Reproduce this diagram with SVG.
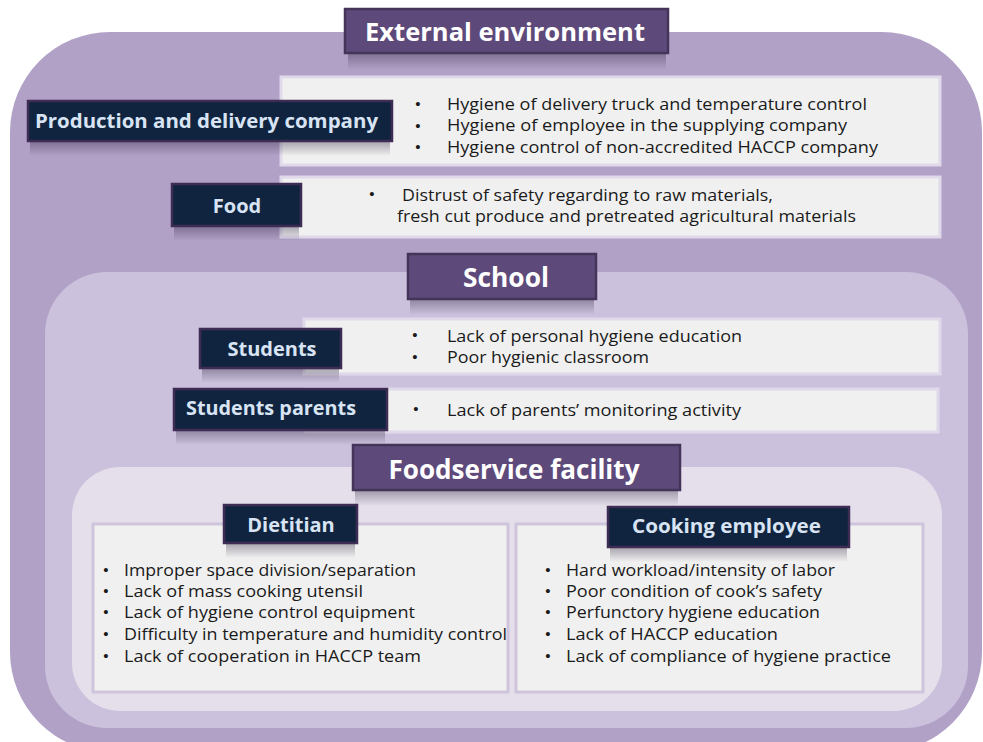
<svg xmlns="http://www.w3.org/2000/svg" width="983" height="742" viewBox="0 0 983 742">
  <defs>
    <linearGradient id="shade" x1="0" y1="0" x2="0" y2="1">
      <stop offset="0" stop-color="#2a1f3a" stop-opacity="0.35"/>
      <stop offset="1" stop-color="#2a1f3a" stop-opacity="0"/>
    </linearGradient>
    <style>
      .outer { fill: #b1a1c7; }
      .school { fill: #cbc1dc; }
      .facility { fill: #e4dfeb; }
      .head { fill: #5e4a7a; stroke: #443459; stroke-width: 2.5; }
      .label { fill: #11243f; stroke: #3e2c55; stroke-width: 2.5; }
      .shade { fill: url(#shade); }
      .card { fill: #f0f0f0; stroke: #e0d9ea; stroke-width: 3; }
      .panel { fill: #f0f0f0; stroke: #cec5dd; stroke-width: 3; }
      .htxt { font-family: "Open Sans", "Noto Sans", "Liberation Sans", sans-serif; font-weight: 700; fill: #ffffff; text-anchor: middle; }
      .ltxt { font-family: "Open Sans", "Noto Sans", "Liberation Sans", sans-serif; font-weight: 700; font-size: 20px; fill: #d8e4f4; }
      .body { font-family: "Open Sans", "Noto Sans", "Liberation Sans", sans-serif; font-size: 16.5px; fill: #1a1a1a; }
      .tight { font-size: 15.5px; }
      .dot { font-family: "Liberation Sans", sans-serif; font-size: 15px; fill: #1a1a1a; text-anchor: middle; }
    </style>
  </defs>

  <!-- nested backgrounds -->
  <rect class="outer" x="10" y="32" width="972" height="720" rx="100"/>
  <rect class="school" x="45" y="272" width="923" height="456" rx="62"/>
  <rect class="facility" x="72" y="467" width="870" height="244" rx="48"/>

  <!-- External environment -->
  <g id="external-environment">
    <rect class="shade" x="348" y="54" width="318" height="16"/>
    <rect class="head" x="345" y="9" width="323" height="44"/>
    <text class="htxt" x="505" y="41" font-size="25" textLength="280" lengthAdjust="spacingAndGlyphs">External environment</text>
  </g>

  <g id="production-delivery-details">
    <rect class="card" x="281" y="77" width="659" height="88"/>
    <text class="dot" x="418" y="109">•</text>
    <text class="dot" x="418" y="131">•</text>
    <text class="dot" x="418" y="152">•</text>
    <text class="body" x="447" y="110" textLength="420" lengthAdjust="spacingAndGlyphs">Hygiene of delivery truck and temperature control</text>
    <text class="body" x="447" y="131" textLength="400" lengthAdjust="spacingAndGlyphs">Hygiene of employee in the supplying company</text>
    <text class="body" x="447" y="153" textLength="431" lengthAdjust="spacingAndGlyphs">Hygiene control of non-accredited HACCP company</text>
  </g>
  <g id="production-delivery-company">
    <rect class="shade" x="30" y="142" width="360" height="14"/>
    <rect class="label" x="28" y="101" width="364" height="40"/>
    <text class="ltxt" x="35" y="128" textLength="343" lengthAdjust="spacingAndGlyphs">Production and delivery company</text>
  </g>

  <g id="food-details">
    <rect class="card" x="281" y="177" width="659" height="60"/>
    <text class="dot" x="372" y="199">•</text>
    <text class="body tight" x="402" y="201" textLength="371" lengthAdjust="spacingAndGlyphs">Distrust of safety regarding to raw materials,</text>
    <text class="body tight" x="397" y="222" textLength="459" lengthAdjust="spacingAndGlyphs">fresh cut produce and pretreated agricultural materials</text>
  </g>
  <g id="food">
    <rect class="shade" x="174" y="227" width="125" height="14"/>
    <rect class="label" x="172" y="184" width="129" height="42"/>
    <text class="ltxt" x="237" y="213" text-anchor="middle">Food</text>
  </g>

  <!-- School -->
  <g id="school">
    <rect class="shade" x="410" y="300" width="184" height="15"/>
    <rect class="head" x="408" y="254" width="188" height="45"/>
    <text class="htxt" x="506" y="287" font-size="26" textLength="86" lengthAdjust="spacingAndGlyphs">School</text>
  </g>

  <g id="students-details">
    <rect class="card" x="304" y="319" width="636" height="55"/>
    <text class="dot" x="415" y="340">•</text>
    <text class="dot" x="415" y="362">•</text>
    <text class="body" x="447" y="342" textLength="295" lengthAdjust="spacingAndGlyphs">Lack of personal hygiene education</text>
    <text class="body" x="447" y="363" textLength="202" lengthAdjust="spacingAndGlyphs">Poor hygienic classroom</text>
  </g>
  <g id="students">
    <rect class="shade" x="202" y="369" width="137" height="14"/>
    <rect class="label" x="200" y="329" width="141" height="39"/>
    <text class="ltxt" x="272" y="356" text-anchor="middle">Students</text>
  </g>

  <g id="students-parents-details">
    <rect class="card" x="306" y="389" width="632" height="43"/>
    <text class="dot" x="416" y="414">•</text>
    <text class="body" x="447" y="416" textLength="294" lengthAdjust="spacingAndGlyphs">Lack of parents’ monitoring activity</text>
  </g>
  <g id="students-parents">
    <rect class="shade" x="176" y="431" width="209" height="14"/>
    <rect class="label" x="174" y="389" width="213" height="41"/>
    <text class="ltxt" x="186" y="415" textLength="170" lengthAdjust="spacingAndGlyphs">Students parents</text>
  </g>

  <!-- Foodservice facility -->
  <g id="foodservice-facility">
    <rect class="shade" x="355" y="491" width="323" height="15"/>
    <rect class="head" x="353" y="445" width="327" height="45"/>
    <text class="htxt" x="514" y="479" font-size="26" textLength="251" lengthAdjust="spacingAndGlyphs">Foodservice facility</text>
  </g>

  <g id="dietitian-details">
    <rect class="panel" x="93" y="524" width="415" height="168"/>
    <text class="dot" x="106" y="575">•</text>
    <text class="dot" x="106" y="596">•</text>
    <text class="dot" x="106" y="617">•</text>
    <text class="dot" x="106" y="639">•</text>
    <text class="dot" x="106" y="661">•</text>
    <text class="body" x="124" y="576" textLength="292" lengthAdjust="spacingAndGlyphs">Improper space division/separation</text>
    <text class="body" x="124" y="597" textLength="239" lengthAdjust="spacingAndGlyphs">Lack of mass cooking utensil</text>
    <text class="body" x="124" y="618" textLength="291" lengthAdjust="spacingAndGlyphs">Lack of hygiene control equipment</text>
    <text class="body" x="124" y="640" textLength="383" lengthAdjust="spacingAndGlyphs">Difficulty in temperature and humidity control</text>
    <text class="body" x="124" y="662" textLength="297" lengthAdjust="spacingAndGlyphs">Lack of cooperation in HACCP team</text>
  </g>
  <g id="dietitian">
    <rect class="shade" x="226" y="544" width="129" height="14"/>
    <rect class="label" x="224" y="505" width="133" height="38"/>
    <text class="ltxt" x="291" y="532" text-anchor="middle">Dietitian</text>
  </g>

  <g id="cooking-employee-details">
    <rect class="panel" x="516" y="524" width="407" height="168"/>
    <text class="dot" x="548" y="575">•</text>
    <text class="dot" x="548" y="596">•</text>
    <text class="dot" x="548" y="617">•</text>
    <text class="dot" x="548" y="639">•</text>
    <text class="dot" x="548" y="661">•</text>
    <text class="body" x="566" y="576" textLength="269" lengthAdjust="spacingAndGlyphs">Hard workload/intensity of labor</text>
    <text class="body" x="566" y="597" textLength="256" lengthAdjust="spacingAndGlyphs">Poor condition of cook’s safety</text>
    <text class="body" x="566" y="618" textLength="254" lengthAdjust="spacingAndGlyphs">Perfunctory hygiene education</text>
    <text class="body" x="566" y="640" textLength="212" lengthAdjust="spacingAndGlyphs">Lack of HACCP education</text>
    <text class="body" x="566" y="662" textLength="325" lengthAdjust="spacingAndGlyphs">Lack of compliance of hygiene practice</text>
  </g>
  <g id="cooking-employee">
    <rect class="shade" x="610" y="548" width="237" height="14"/>
    <rect class="label" x="608" y="507" width="241" height="40"/>
    <text class="ltxt" x="632" y="533" textLength="189" lengthAdjust="spacingAndGlyphs">Cooking employee</text>
  </g>
</svg>
